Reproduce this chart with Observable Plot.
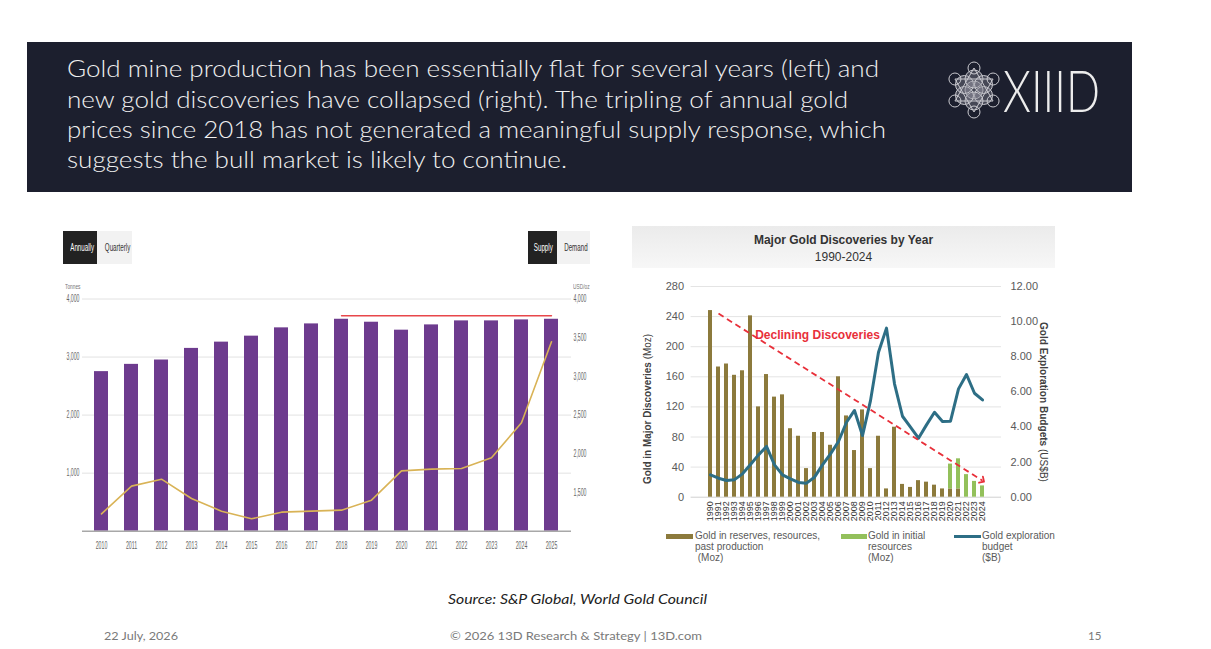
<!DOCTYPE html>
<html>
<head>
<meta charset="utf-8">
<script src="https://cdn.jsdelivr.net/npm/d3@7"></script>
<script src="https://cdn.jsdelivr.net/npm/@observablehq/plot@0.6"></script>
<style>
  body { margin: 0; background: #fff; }
  #slide { position: relative; width: 1211px; height: 649px; overflow: hidden; font-family: Lato, "Open Sans", sans-serif; }
  .abs { position: absolute; }
  .btn { position: absolute; height: 33px; line-height: 33px; text-align: center; font-family: "Liberation Sans", Arial, sans-serif; font-size: 10px; overflow: hidden; }
  .btn span { display: inline-block; transform: scaleX(0.62); }
  .dark { background: #222; color: #fff; }
  .light { background: #f2f2f2; color: #333; }
  .small { font-family: "Liberation Sans", Arial, sans-serif; font-size: 8px; color: #777; transform-origin: left center; transform: scaleX(0.6); }
  #discTitle { left: 632px; top: 226px; width: 423px; height: 42px; background: linear-gradient(#ebebeb, #f7f7f7); text-align: center; font-family: "Liberation Sans", Arial, sans-serif; color: #333; }
  .leg { position: absolute; font-family: "Liberation Sans", Arial, sans-serif; font-size: 10px; line-height: 11px; color: #5a5a5a; }
  .sw { position: absolute; }
</style>
</head>
<body>
<div id="slide">
  <div class="btn dark" style="left:63px;top:231px;width:34px"><span>Annually</span></div>
  <div class="btn light" style="left:97px;top:231px;width:35px"><span>Quarterly</span></div>
  <div class="btn dark" style="left:528px;top:231px;width:29px"><span>Supply</span></div>
  <div class="btn light" style="left:557px;top:231px;width:33px"><span>Demand</span></div>
  <div class="abs small" style="left:65px;top:282px">Tonnes</div>
  <div class="abs small" style="left:573px;top:282px">USD/oz</div>

  <div id="prod" class="abs" style="left:50px;top:270px"></div>

  <div id="discTitle" class="abs">
    <div style="font-weight:bold;font-size:12px;margin-top:7px">Major Gold Discoveries by Year</div>
    <div style="font-size:12px;margin-top:3px">1990-2024</div>
  </div>
  <div id="disc" class="abs" style="left:630px;top:270px"></div>

  <div class="sw" style="left:666px;top:534px;width:27px;height:5px;background:#8c7a3c"></div>
  <div class="leg" style="left:695px;top:530px">Gold in reserves, resources,<br>past production<br>&nbsp;(Moz)</div>
  <div class="sw" style="left:841px;top:534px;width:26px;height:5px;background:#93c05b"></div>
  <div class="leg" style="left:868px;top:530px">Gold in initial<br>resources<br>(Moz)</div>
  <div class="sw" style="left:954px;top:535px;width:27px;height:3px;background:#2d6e85"></div>
  <div class="leg" style="left:982px;top:530px">Gold exploration<br>budget<br>($B)</div>

  <svg id="deco" class="abs" width="1211" height="649" style="left:0;top:0;pointer-events:none">
    <rect x="27" y="42" width="1105" height="150" fill="#1c1f2e"></rect>
    <g font-family="Lato, 'Open Sans', sans-serif" font-weight="300" font-size="22.5" fill="#f0f0f0">
      <text x="67" y="77" textLength="812" lengthAdjust="spacingAndGlyphs">Gold mine production has been essentially flat for several years (left) and</text>
      <text x="67" y="107.5" textLength="781" lengthAdjust="spacingAndGlyphs">new gold discoveries have collapsed (right). The tripling of annual gold</text>
      <text x="67" y="138" textLength="819" lengthAdjust="spacingAndGlyphs">prices since 2018 has not generated a meaningful supply response, which</text>
      <text x="67" y="168" textLength="500" lengthAdjust="spacingAndGlyphs">suggests the bull market is likely to continue.</text>
    </g>
    <g id="logo" transform="translate(974,90)" stroke="#c9c9cf" stroke-width="1" fill="rgba(150,150,160,0.35)"></g>
    <text x="1003" y="112" font-family="Lato, sans-serif" font-weight="300" font-size="58" fill="#ececec" textLength="97" lengthAdjust="spacingAndGlyphs">XIIID</text>

    <text transform="translate(651,409) rotate(-90)" text-anchor="middle" font-family="'Liberation Sans', Arial, sans-serif" font-size="10.5" fill="#404040" textLength="150" lengthAdjust="spacingAndGlyphs"><tspan font-weight="bold">Gold in Major Discoveries </tspan><tspan>(Moz)</tspan></text>
    <text transform="translate(1040,402) rotate(90)" text-anchor="middle" font-family="'Liberation Sans', Arial, sans-serif" font-size="10.5" fill="#404040" textLength="160" lengthAdjust="spacingAndGlyphs"><tspan font-weight="bold">Gold Exploration Budgets </tspan><tspan>(US$B)</tspan></text>

    <text x="448" y="604" font-family="Lato, sans-serif" font-style="italic" font-size="13.5" fill="#222" textLength="259" lengthAdjust="spacingAndGlyphs">Source: S&amp;P Global, World Gold Council</text>
    <g font-family="Lato, sans-serif" font-size="11.5" fill="#7a7a7a">
      <text x="104" y="640" textLength="74" lengthAdjust="spacingAndGlyphs">22 July, 2026</text>
      <text x="450" y="640" textLength="252" lengthAdjust="spacingAndGlyphs">© 2026 13D Research &amp; Strategy | 13D.com</text>
      <text x="1088" y="640">15</text>
    </g>
  </svg>
</div>

<script>
// ---- left chart: gold mine production (tonnes) vs annual gold price (USD/oz)
const prodYears = [2010, 2011, 2012, 2013, 2014, 2015, 2016, 2017, 2018, 2019, 2020, 2021, 2022, 2023, 2024, 2025];
const mineTonnes = [2749, 2874, 2949, 3149, 3257, 3360, 3503, 3571, 3651, 3600, 3463, 3554, 3623, 3623, 3640, 3651];
const goldPrice = [1224, 1582, 1672, 1422, 1259, 1160, 1246, 1259, 1272, 1401, 1780, 1802, 1810, 1948, 2401, 3448];
const tonnesTicks = [1000, 2000, 3000, 4000];
const priceTicks = [1500, 2000, 2500, 3000, 3500, 4000];
const flatYears = [2018, 2025];
const flatTonnes = [3711, 3711];

// ---- right chart: major gold discoveries and exploration budget
const discYears = [1990, 1991, 1992, 1993, 1994, 1995, 1996, 1997, 1998, 1999, 2000, 2001, 2002, 2003, 2004, 2005, 2006,
  2007, 2008, 2009, 2010, 2011, 2012, 2013, 2014, 2015, 2016, 2017, 2018, 2019, 2020, 2021, 2022, 2023, 2024];
const reservesMoz = [248, 173, 177, 162, 168, 241, 120, 163, 133, 136, 91, 81, 38, 86, 86, 69, 160,
  108, 62, 116, 38, 81, 11, 93, 17, 13, 22, 20, 16, 11, 11, 11, 0, 0, 0];
const initialMoz = [0, 0, 0, 0, 0, 0, 0, 0, 0, 0, 0, 0, 0, 0, 0, 0, 0,
  0, 0, 0, 0, 0, 0, 0, 0, 0, 0, 0, 0, 0, 33, 40, 30, 21, 15];
const budgetUSDb = [1.27, 1.08, 0.95, 1.0, 1.33, 1.86, 2.41, 2.89, 1.84, 1.27, 1.04, 0.84, 0.80, 1.14, 1.84, 2.47, 3.17,
  4.27, 4.94, 3.51, 5.5, 8.26, 9.63, 6.46, 4.61, 3.99, 3.36, 4.12, 4.84, 4.31, 4.33, 6.17, 6.99, 5.92, 5.54];
const mozTicks = [0, 40, 80, 120, 160, 200, 240, 280];
const budgetTicks = [0, 2, 4, 6, 8, 10, 12];
const trendYears = [1991, 2024];
const trendMoz = [244, 22];
const noteText = "Declining Discoveries";

// price axis 1000..4000 sits on the tonnes axis 0..4000
const priceToT = p => (p - 1000) * 4000 / 3000;
const tToPrice = t => t * 3000 / 4000 + 1000;
// budget axis 0..12 sits on the Moz axis 0..280
const budToMoz = b => b * 280 / 12;
const mozToBud = m => m * 12 / 280;

const prod = prodYears.map((year, i) => ({year, tonnes: mineTonnes[i], price: priceToT(goldPrice[i])}));
const flat = flatYears.map((year, i) => ({year, tonnes: flatTonnes[i]}));

const prodPlot = Plot.plot({
  width: 570,
  height: 290,
  marginTop: 28.5,
  marginRight: 49,
  marginBottom: 29.3,
  marginLeft: 32,
  style: {fontFamily: '"Liberation Sans", Arial, sans-serif', fontSize: "10px", color: "#666", background: "transparent"},
  x: {type: "band", domain: prodYears, paddingInner: 0.52, paddingOuter: 0.26, label: null},
  y: {domain: [0, 4000]},
  marks: [
    Plot.gridY(tonnesTicks, {stroke: "#e2e2e2", strokeOpacity: 1}),
    Plot.barY(prod, {x: "year", y: "tonnes", fill: "#6d3b8e"}),
    Plot.ruleY([0], {stroke: "#a8a8a8", strokeWidth: 1.5}),
    Plot.line(prod, {x: "year", y: "price", stroke: "#d9b356", strokeWidth: 1.6}),
    Plot.line(flat, {x: "year", y: "tonnes", stroke: "#e8474a", strokeWidth: 1.4}),
    Plot.axisX({tickSize: 0, tickPadding: 11, tickFormat: d => String(d), label: null}),
    Plot.axisY({ticks: tonnesTicks, tickSize: 0, tickPadding: 3, tickFormat: d3.format(","), label: null}),
    Plot.axisY({ticks: priceTicks.map(priceToT), anchor: "right", tickSize: 0, tickPadding: 2,
      tickFormat: t => d3.format(",")(Math.round(tToPrice(t))), label: null})
  ]
});
document.querySelector("#prod").appendChild(prodPlot);

// the source chart uses a very condensed face for its ticks
d3.select(prodPlot).selectAll("g[aria-label$='tick label'] text").each(function () {
  const w = this.getComputedTextLength();
  this.setAttribute("textLength", (w * 0.52).toFixed(1));
  this.setAttribute("lengthAdjust", "spacingAndGlyphs");
});

const disc = discYears.map((year, i) => ({
  year,
  reserves: reservesMoz[i],
  initTop: reservesMoz[i] + initialMoz[i],
  budget: budToMoz(budgetUSDb[i])
}));
const trend = [{x1: trendYears[0], y1: trendMoz[0], x2: trendYears[1], y2: trendMoz[1]}];

const discPlot = Plot.plot({
  width: 430,
  height: 265,
  marginTop: 16,
  marginRight: 59,
  marginBottom: 38.3,
  marginLeft: 60.6,
  style: {fontFamily: '"Liberation Sans", Arial, sans-serif', fontSize: "11px", color: "#5a5a5a", background: "transparent"},
  x: {type: "band", domain: discYears, paddingInner: 0.47, paddingOuter: 0.235, label: null},
  y: {domain: [0, 280]},
  marks: [
    Plot.gridY(mozTicks.slice(1), {stroke: "#e4e4e4", strokeOpacity: 1}),
    Plot.ruleY([0], {stroke: "#d0d0d0"}),
    Plot.barY(disc, {x: "year", y: "reserves", fill: "#8c7a3c"}),
    Plot.barY(disc.filter(d => d.initTop > d.reserves), {x: "year", y1: "reserves", y2: "initTop", fill: "#93c05b"}),
    Plot.line(disc, {x: "year", y: "budget", stroke: "#2d6e85", strokeWidth: 3, strokeLinejoin: "round"}),
    Plot.link(trend, {x1: "x1", y1: "y1", x2: "x2", y2: "y2", stroke: "#e8303a", strokeWidth: 1.8,
      strokeDasharray: "6,4", markerEnd: "arrow"}),
    Plot.text([{year: 2003, v: 216}], {x: "year", y: "v", text: () => noteText, dx: 3,
      fill: "#e8303a", fontWeight: "bold", fontSize: 12}),
    Plot.axisX({tickRotate: -90, tickSize: 0, tickPadding: 4, fontSize: 9, fill: "#333", tickFormat: d => String(d), label: null}),
    Plot.axisY({ticks: mozTicks, tickSize: 0, tickPadding: 7, tickFormat: d => String(d), label: null}),
    Plot.axisY({ticks: budgetTicks.map(budToMoz), anchor: "right", tickSize: 0, tickPadding: 9,
      tickFormat: m => mozToBud(m).toFixed(2), label: null})
  ]
});
// keep the arrow head solid
d3.select(discPlot).selectAll("marker path").style("stroke-dasharray", "none");
document.querySelector("#disc").appendChild(discPlot);

// XIIID logo mark: a cluster of circles
const logo = d3.select("#logo");
const hex = [[0, 0]].concat(d3.range(6).map(k => [11 * Math.cos(k * Math.PI / 3 + Math.PI / 6), 11 * Math.sin(k * Math.PI / 3 + Math.PI / 6)]));
logo.selectAll("circle.in").data(hex).join("circle").attr("class", "in")
  .attr("cx", d => d[0]).attr("cy", d => d[1]).attr("r", 9);
const outer = d3.range(6).map(k => [22 * Math.cos(k * Math.PI / 3 - Math.PI / 2), 22 * Math.sin(k * Math.PI / 3 - Math.PI / 2)]);
logo.selectAll("circle.out").data(outer).join("circle").attr("class", "out")
  .attr("cx", d => d[0]).attr("cy", d => d[1]).attr("r", 6).attr("fill", "none");
logo.append("path").attr("fill", "none")
  .attr("d", `M${outer[0]}L${outer[2]}L${outer[4]}ZM${outer[1]}L${outer[3]}L${outer[5]}Z`);
</script>
</body>
</html>
